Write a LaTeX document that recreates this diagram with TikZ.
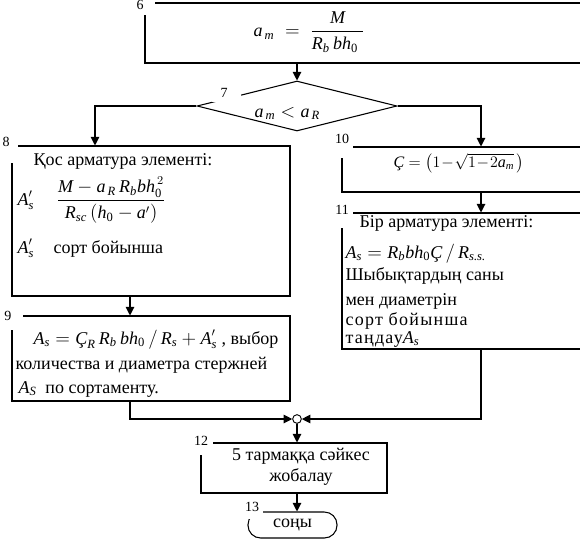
\documentclass[tikz,border=0pt]{standalone}
\usepackage{amsmath}
\usepackage{fontspec}
\setmainfont{Liberation Serif}
\usetikzlibrary{arrows.meta,shapes.geometric}
\newcommand\ti[1]{\textit{#1}}
\newcommand\tz{\textrm{0}}
\newcommand\boxnode[5]{%
  \node[flowbox, minimum width={(#4-#2)*0.75pt}, minimum height={(#5-#3)*0.75pt}] (#1) at ({(#2+#4)/2},{(#3+#5)/2}) {};}
\newcommand\cover[4]{\fill[white] (#1,#2) rectangle (#3,#4);}
\begin{document}
\begin{tikzpicture}[x=0.75pt,y=-0.75pt,
  font=\fontsize{13.5}{16}\selectfont,
  line width=0.8pt,
  flowbox/.style={draw, rectangle, inner sep=0pt},
  arr/.style={-{Triangle[length=6.5pt,width=6.5pt]}},
  txt/.style={anchor=base west, inner sep=0pt},
  lbl/.style={inner sep=0pt, font=\fontsize{10.5}{12}\selectfont}]
\useasboundingbox (0,0) rectangle (580,540);
\clip (0,0) rectangle (580,540);
\fill[white] (0,0) rectangle (580,540);

% boxes
\boxnode{b6}{145}{3}{600}{63}
\node[draw, diamond, inner sep=0pt, minimum width=150pt, minimum height=37.5pt] (dm) at (297,106) {};
\boxnode{b8}{12}{146}{290}{296}
\boxnode{b9}{12}{316}{290}{401}
\boxnode{b10}{342}{147}{600}{192}
\boxnode{b11}{342}{213}{600}{349}
\boxnode{b12}{201}{443}{387}{493}
\node[draw, rectangle, rounded corners=9.5pt, inner sep=0pt, minimum width=66.75pt, minimum height=19.5pt] (t13) at (292.5,525) {};
\node[draw, circle, inner sep=0pt, minimum size=6.5pt, line width=0.7pt] (mc) at (297,419) {};

% helper x positions
\coordinate (xL) at (95,0);
\coordinate (xR) at (481,0);
\coordinate (xM) at (130,0);

% connectors
\draw[arr] (dm.north |- b6.south) -- (dm.north);
\draw[arr] (dm.west) -| (b8.north -| xL);
\draw[arr] (dm.east) -| (b10.north -| xR);
\draw[arr] (b10.south -| xR) -- (b11.north -| xR);
\draw[arr] (b8.south -| xM) -- (b9.north -| xM);
\draw[arr] (b9.south -| xM) |- (mc.west);
\draw[arr] (b11.south -| xR) |- (mc.east);
\draw[arr] (mc.south) -- (mc.south |- b12.north);
\draw[arr] (b12.south -| mc) -- (t13.north -| mc);

% label covers
\cover{133}{-5}{155}{15}
\cover{212}{84}{241}{102}
\cover{0}{130}{18}{163}
\cover{0}{305}{23}{330}
\cover{330}{128}{353}{158}
\cover{330}{200}{353}{228}
\cover{190}{430}{213}{455}
\cover{238}{500}{263}{519}

% labels
\node[lbl] (l6) at (140,5) {6};
\node[lbl] (l7) at (224,93) {7};
\node[lbl] (l8) at (6,142) {8};
\node[lbl] (l9) at (8,316) {9};
\node[lbl] (l10) at (342,139) {10};
\node[lbl] (l11) at (342,210) {11};
\node[lbl] (l12) at (201,441) {12};
\node[lbl] (l13) at (252,507) {13};

% box 6
\node[anchor=west, inner sep=0pt] (f6) at (253,32) {$\ti{a}_{\,\ti{m}} \;=\; \dfrac{\;\ti{M}\;}{\ti{R}_{\ti{b}}\,\ti{bh}_{\tz}\;}$};
% diamond
\node[txt] (f7) at (254,117) {$\ti{a}_{\,\ti{m}} < \ti{a}_{\,\ti{R}}$};
% box 8
\node[txt] (t8a) at (33,165) {Қос арматура элементі:};
\node[txt] (t8b) at (17,205) {$\ti{A}'_{\ti{s}}$};
\node[anchor=west, inner sep=0pt] (t8c) at (56,200) {$\dfrac{\ti{M} - \ti{a}_{\,\ti{R}}\,\ti{R}_{\ti{b}}\ti{bh}_{\tz}^{\,2}}{\ti{R}_{\ti{sc}}\left(\ti{h}_{\tz} - \ti{a}'\right)}$};
\node[txt] (t8d) at (17,253) {$\ti{A}'_{\ti{s}}$};
\node[txt] (t8e) at (53,253) {сорт бойынша};
% box 9
\node[txt] (t9a) at (33,344) {$\ti{A}_{\ti{s}} = \ti{Ç}_{\ti{R}}\,\ti{R}_{\ti{b}}\,\ti{bh}_{\tz}\,/\,\ti{R}_{\ti{s}} + \ti{A}'_{\ti{s}}$\ , выбор};
\node[txt] (t9b) at (15,369) {количества и диаметра стержней};
\node[txt] (t9c) at (18,393) {$\ti{A}_{\ti{S}}$\enspace по сортаменту.};
% box 10
\node[anchor=west, inner sep=0pt, font=\fontsize{12}{14}\selectfont] (t10) at (393,163) {$\ti{Ç} = \left(1\!-\!\sqrt{1\!-\!2\ti{a}_{\ti{m}}}\,\right)$};
% box 11
\node[txt] (t11a) at (359,227) {Бір арматура элементі:};
\node[txt] (t11b) at (345,258) {$\ti{A}_{\ti{s}} = \ti{R}_{\ti{b}}\ti{bh}_{\tz}\ti{Ç}\,/\,\ti{R}_{\ti{s.s.}}$};
\node[txt] (t11c) at (345,280) {Шыбықтардың саны};
\node[txt] (t11d) at (345,305) {мен диаметрін};
\node[txt] (t11e) at (345,325) {\addfontfeature{LetterSpace=7}сорт бойынша};
\node[txt] (t11f) at (345,343) {\addfontfeature{LetterSpace=7}таңдау$\ti{A}_{\ti{s}}$};
% box 12
\node[align=center, inner sep=0pt] (t12) at (301,467) {5 тармаққа сәйкес\\жобалау};
% terminal text
\node[inner sep=0pt] (t13t) at (t13) {соңы};
\end{tikzpicture}
\end{document}
